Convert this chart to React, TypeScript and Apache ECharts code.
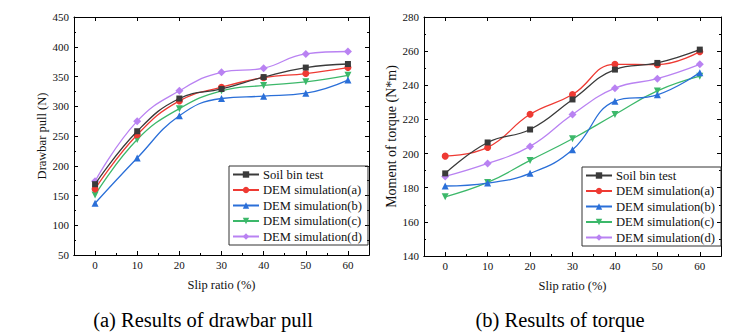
import React, { useEffect, useRef } from "react";
import * as echarts from "echarts";

const slipRatio = ["0", "10", "20", "30", "40", "50", "60"];
const seriesNames = ["Soil bin test", "DEM simulation(a)", "DEM simulation(b)", "DEM simulation(c)", "DEM simulation(d)"];

const pullSoil = [169, 258, 313, 329, 349, 365, 371];
const pullA = [161, 252, 309, 332, 348, 355, 365];
const pullB = [137, 213, 284, 313, 317, 322, 344];
const pullC = [151, 244, 296, 326, 335, 341, 352];
const pullD = [174, 275, 326, 357, 364, 388, 392];

const torqueSoil = [188.4, 206.5, 214.1, 231.7, 249.2, 253.1, 260.9];
const torqueA = [198.5, 203.6, 223, 234.6, 252.3, 252.1, 259.7];
const torqueB = [181, 182.7, 188.4, 202.2, 230.7, 234.4, 247.4];
const torqueC = [174.7, 183.1, 196, 208.7, 222.9, 236.7, 245.3];
const torqueD = [186.6, 194.2, 204.2, 222.9, 238.3, 243.9, 252.3];

const colors = ["#3a3a3a", "#ee3a33", "#2a6fd8", "#3cb86a", "#b982f2"];
const symbols = ["rect", "circle", "triangle", "triangle", "diamond"];
const rotates = [0, 0, 0, 180, 0];

const FONT = "'Liberation Serif', 'Times New Roman', serif";

export default function App() {
  const ref = useRef<HTMLDivElement>(null);
  useEffect(() => {
    if (!ref.current) return;
    const chart = echarts.init(ref.current, null, { renderer: "svg" });
    const axisLine = { show: true, lineStyle: { color: "#000", width: 1 } };
    const mkX = (gi: number) => [
      {
        type: "category",
        gridIndex: gi,
        data: slipRatio,
        boundaryGap: true,
        position: "bottom",
        axisLine,
        axisTick: { show: true, inside: true, alignWithLabel: true, length: 4, lineStyle: { color: "#000" } },
        axisLabel: { show: true, fontFamily: FONT, fontSize: 11, color: "#111", margin: 4 },
        name: "Slip ratio (%)",
        nameLocation: "middle",
        nameGap: 23,
        nameTextStyle: { fontFamily: FONT, fontSize: 12.5, color: "#111" },
        splitLine: { show: false },
      },
      {
        type: "category",
        gridIndex: gi,
        data: slipRatio,
        boundaryGap: true,
        position: "bottom",
        axisLine,
        axisTick: { show: true, inside: true, alignWithLabel: false, length: 2, lineStyle: { color: "#000" } },
        axisLabel: { show: false },
        splitLine: { show: false },
      },
      {
        type: "category",
        gridIndex: gi,
        data: slipRatio,
        boundaryGap: true,
        position: "top",
        axisLine,
        axisTick: { show: true, inside: true, alignWithLabel: true, length: 4, lineStyle: { color: "#000" } },
        axisLabel: { show: false },
        splitLine: { show: false },
      },
    ];
    const mkY = (gi: number, min: number, max: number, interval: number, name: string, nameSize: number) => [
      {
        type: "value",
        gridIndex: gi,
        min,
        max,
        interval,
        position: "left",
        axisLine,
        axisTick: { show: true, inside: true, length: 4, lineStyle: { color: "#000" } },
        minorTick: { show: true, splitNumber: 2, length: 2, lineStyle: { color: "#000" } },
        axisLabel: { fontFamily: FONT, fontSize: 11, color: "#111", margin: 5 },
        splitLine: { show: false },
        name,
        nameLocation: "middle",
        nameGap: 22,
        nameTextStyle: { fontFamily: FONT, fontSize: nameSize, color: "#111" },
      },
      {
        type: "value",
        gridIndex: gi,
        min,
        max,
        interval,
        position: "right",
        axisLine,
        axisTick: { show: true, inside: true, length: 4, lineStyle: { color: "#000" } },
        minorTick: { show: true, splitNumber: 2, length: 2, lineStyle: { color: "#000" } },
        axisLabel: { show: false },
        splitLine: { show: false },
      },
    ];
    const pullData = [pullSoil, pullA, pullB, pullC, pullD];
    const torqueData = [torqueSoil, torqueA, torqueB, torqueC, torqueD];
    const mkSeries = (data: number[][], xi: number, yi: number) =>
      data.map((d, i) => ({
        type: "line",
        name: seriesNames[i],
        xAxisIndex: xi,
        yAxisIndex: yi,
        data: d,
        smooth: 0.45,
        symbol: symbols[i],
        symbolRotate: rotates[i],
        symbolSize: i === 4 ? 8 : i === 0 ? 6 : 7,
        showAllSymbol: true,
        itemStyle: { color: colors[i] },
        lineStyle: { color: colors[i], width: 1.3 },
        z: 10 - i,
      }));
    const mkLegend = (left: number, top: number) => ({
      orient: "vertical",
      left,
      top,
      data: seriesNames,
      borderColor: "#333",
      borderWidth: 1,
      borderRadius: 0,
      padding: [2, 6, 2, 3],
      itemGap: 2.5,
      itemWidth: 26,
      itemHeight: 8,
      textStyle: { fontFamily: FONT, fontSize: 12.6, lineHeight: 13, color: "#111", padding: [0, 0, 0, -1] },
    });
    chart.setOption({
      animation: false,
      backgroundColor: "#fff",
      grid: [
        { left: 74, top: 17, width: 295, height: 238 },
        { left: 424, top: 17, width: 297, height: 239 },
      ],
      xAxis: [...mkX(0), ...mkX(1)],
      yAxis: [...mkY(0, 50, 450, 50, "Drawbar pull (N)", 12.5), ...mkY(1, 140, 280, 20, "Moment of torque (N*m)", 14)],
      legend: [mkLegend(229, 166), mkLegend(582, 167)],
      series: [...mkSeries(pullData, 0, 0), ...mkSeries(torqueData, 3, 2)],
      graphic: [
        {
          type: "text",
          x: 203,
          y: 320,
          style: { text: "(a) Results of drawbar pull", font: `20.5px ${FONT}`, fill: "#000", align: "center", verticalAlign: "middle" },
        },
        {
          type: "text",
          x: 560,
          y: 320,
          style: { text: "(b) Results of torque", font: `20.5px ${FONT}`, fill: "#000", align: "center", verticalAlign: "middle" },
        },
      ],
    });
    return () => chart.dispose();
  }, []);
  return <div ref={ref} style={{ position: "fixed", left: 0, top: 0, width: 743, height: 335 }} />;
}
